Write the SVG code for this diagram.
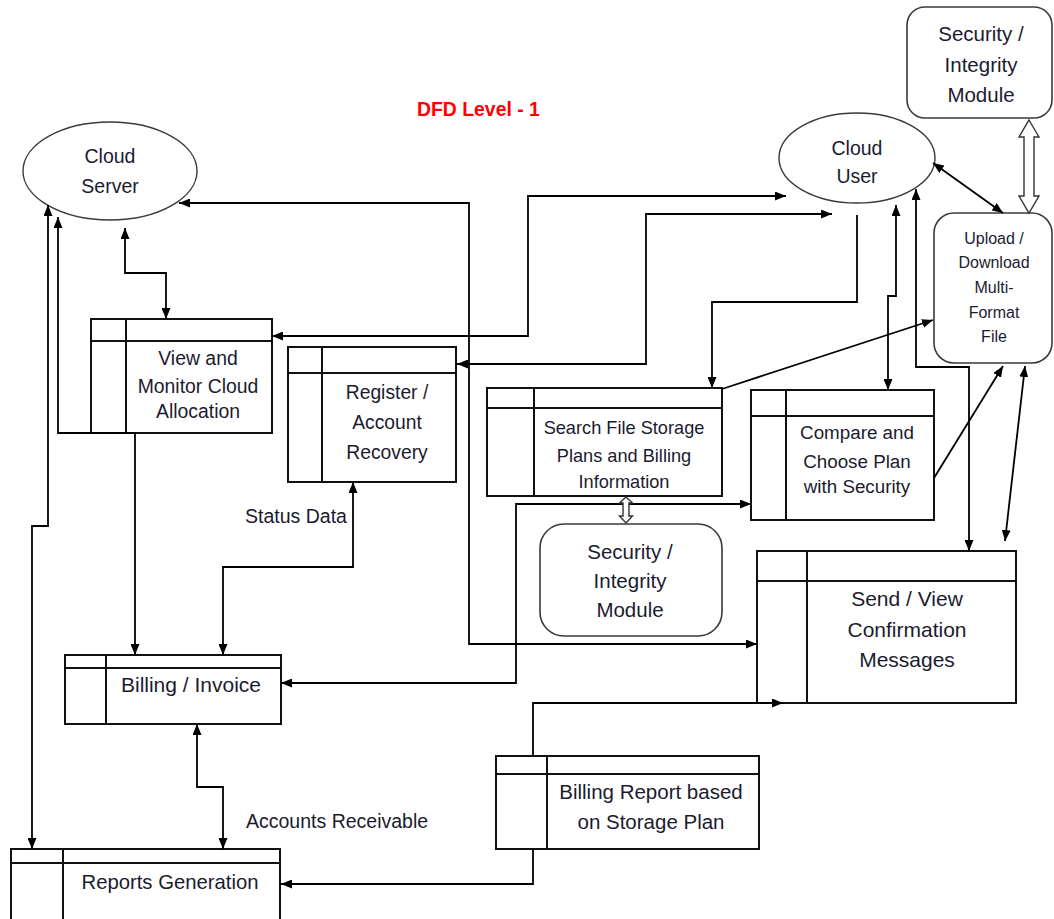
<svg xmlns="http://www.w3.org/2000/svg" width="1054" height="919" viewBox="0 0 1054 919">
  <style>
    .bg { fill: #ffffff; }
    .proc { fill: #ffffff; stroke: #111111; stroke-width: 2; }
    .part { fill: none; stroke: #111111; stroke-width: 2; }
    .ent { fill: #ffffff; stroke: #3a3a3a; stroke-width: 1.4; }
    .mod { fill: #ffffff; stroke: #3a3a3a; stroke-width: 1.6; }
    .flow { fill: none; stroke: #000000; stroke-width: 1.8; }
    .hollow { fill: #ffffff; stroke: #333333; stroke-width: 1.4; }
    text { font-family: "Liberation Sans", Arial, sans-serif; fill: #1b1b2f; text-anchor: middle; }
    .title { fill: #ff0000; font-weight: bold; font-size: 19.4px; text-anchor: start; }
    .lbl { font-size: 19.5px; text-anchor: start; }
  </style>
  <defs>
    <marker id="ah" viewBox="0 0 11 9" refX="11" refY="4.5" markerWidth="11" markerHeight="9" markerUnits="userSpaceOnUse" orient="auto-start-reverse">
      <path d="M0,0 L11,4.5 L0,9 z" fill="#000000"/>
    </marker>
  </defs>

  <rect class="bg" x="0" y="0" width="1054" height="919"/>

  <text class="title" x="417" y="116">DFD Level - 1</text>

  <!-- external entities -->
  <g id="cloud-server">
    <ellipse class="ent" cx="110" cy="171" rx="87" ry="49"/>
    <text font-size="19.5px"><tspan x="110" y="163">Cloud</tspan><tspan x="110" y="193">Server</tspan></text>
  </g>

  <g id="cloud-user">
    <ellipse class="ent" cx="857" cy="158" rx="78" ry="45"/>
    <text font-size="19.5px"><tspan x="857" y="155">Cloud</tspan><tspan x="857" y="183">User</tspan></text>
  </g>

  <!-- modules -->
  <g id="security-top">
    <rect class="mod" x="907" y="7" width="145" height="111" rx="18" ry="18"/>
    <text font-size="20.5px"><tspan x="981" y="41">Security /</tspan><tspan x="981" y="72">Integrity</tspan><tspan x="981" y="102">Module</tspan></text>
  </g>

  <g id="upload-download">
    <rect class="mod" x="934" y="213" width="118" height="150" rx="20" ry="20"/>
    <text font-size="16px"><tspan x="994" y="244">Upload /</tspan><tspan x="994" y="268">Download</tspan><tspan x="994" y="293">Multi-</tspan><tspan x="994" y="318">Format</tspan><tspan x="994" y="342">File</tspan></text>
  </g>

  <g id="security-mid">
    <rect class="mod" x="540" y="524" width="182" height="112" rx="24" ry="24"/>
    <text font-size="20.5px"><tspan x="630" y="559">Security /</tspan><tspan x="630" y="588">Integrity</tspan><tspan x="630" y="617">Module</tspan></text>
  </g>

  <!-- processes -->
  <g id="view-monitor">
    <rect class="proc" x="91" y="319" width="181" height="114"/>
    <path class="part" d="M91,341 H272 M126,319 V433"/>
    <text font-size="19.4px"><tspan x="198" y="365">View and</tspan><tspan x="198" y="393">Monitor Cloud</tspan><tspan x="198" y="418">Allocation</tspan></text>
  </g>

  <g id="register">
    <rect class="proc" x="288" y="347" width="168" height="135"/>
    <path class="part" d="M288,373 H456 M322,347 V482"/>
    <text font-size="19.3px"><tspan x="387" y="399">Register /</tspan><tspan x="387" y="429">Account</tspan><tspan x="387" y="459">Recovery</tspan></text>
  </g>

  <g id="search-plans">
    <rect class="proc" x="487" y="388" width="235" height="108"/>
    <path class="part" d="M487,408 H722 M534,388 V496"/>
    <text font-size="18.2px"><tspan x="624" y="434">Search File Storage</tspan><tspan x="624" y="462">Plans and Billing</tspan><tspan x="624" y="488">Information</tspan></text>
  </g>

  <g id="compare-plan">
    <rect class="proc" x="751" y="390" width="183" height="130"/>
    <path class="part" d="M751,416 H934 M786,390 V520"/>
    <text font-size="18.8px"><tspan x="857" y="439">Compare and</tspan><tspan x="857" y="468">Choose Plan</tspan><tspan x="857" y="493">with Security</tspan></text>
  </g>

  <g id="send-view">
    <rect class="proc" x="757" y="551" width="259" height="152"/>
    <path class="part" d="M757,581 H1016 M807,551 V703"/>
    <text font-size="21px"><tspan x="907" y="606">Send / View</tspan><tspan x="907" y="637">Confirmation</tspan><tspan x="907" y="667">Messages</tspan></text>
  </g>

  <g id="billing-invoice">
    <rect class="proc" x="65" y="655" width="216" height="69"/>
    <path class="part" d="M65,668 H281 M106,655 V724"/>
    <text font-size="21px" x="191" y="692">Billing / Invoice</text>
  </g>

  <g id="billing-report">
    <rect class="proc" x="496" y="756" width="263" height="93"/>
    <path class="part" d="M496,774 H759 M547,756 V849"/>
    <text font-size="20.5px"><tspan x="651" y="799">Billing Report based</tspan><tspan x="651" y="829">on Storage Plan</tspan></text>
  </g>

  <g id="reports-generation">
    <rect class="proc" x="11" y="849" width="269" height="80"/>
    <path class="part" d="M11,863 H280 M63,849 V929"/>
    <text font-size="20.3px" x="170" y="889">Reports Generation</text>
  </g>

  <!-- data flows -->
  <g id="connectors">
    <path class="flow" d="M125,228 V273 H166 V319" marker-start="url(#ah)" marker-end="url(#ah)"/>
    <path class="flow" d="M48,205 V526 H32 V849" marker-start="url(#ah)" marker-end="url(#ah)"/>
    <path class="flow" d="M58,217 V433 H135 V655" marker-start="url(#ah)" marker-end="url(#ah)"/>
    <path class="flow" d="M179,203 H469 V644 H757" marker-start="url(#ah)" marker-end="url(#ah)"/>
    <path class="flow" d="M272,336 H528 V196 H786" marker-start="url(#ah)" marker-end="url(#ah)"/>
    <path class="flow" d="M457,364 H646 V214 H832" marker-start="url(#ah)" marker-end="url(#ah)"/>
    <path class="flow" d="M857,215 V302 H712 V388" marker-end="url(#ah)"/>
    <path class="flow" d="M896,205 V296 H888 V390" marker-start="url(#ah)" marker-end="url(#ah)"/>
    <path class="flow" d="M916,189 V367 H969 V551" marker-start="url(#ah)" marker-end="url(#ah)"/>
    <path class="flow" d="M933,163 L1003,213" marker-start="url(#ah)" marker-end="url(#ah)"/>
    <path class="flow" d="M722,389 L933,320" marker-end="url(#ah)"/>
    <path class="flow" d="M934,478 L1003,366" marker-end="url(#ah)"/>
    <path class="flow" d="M1025,366 L1005,541" marker-start="url(#ah)" marker-end="url(#ah)"/>
    <path class="flow" d="M533,756 V703 H783" marker-end="url(#ah)"/>
    <path class="flow" d="M533,849 V884 H281" marker-end="url(#ah)"/>
    <path class="flow" d="M751,504 H516 V683 H281" marker-start="url(#ah)" marker-end="url(#ah)"/>
    <path class="flow" d="M353,482 V567 H223 V655" marker-start="url(#ah)" marker-end="url(#ah)"/>
    <path class="flow" d="M197,724 V787 H223 V849" marker-start="url(#ah)" marker-end="url(#ah)"/>
    <!-- hollow two-way links to the security modules -->
    <path class="hollow" d="M1029,120 L1039,137 L1034,137 L1034,196 L1039,196 L1029,213 L1019,196 L1024,196 L1024,137 L1019,137 Z"/>
    <path class="hollow" d="M626,497 L632.5,503 L629,503 L629,516 L632.5,516 L626,523 L619.5,516 L623,516 L623,503 L619.5,503 Z"/>
  </g>

  <!-- flow labels -->
  <text class="lbl" x="245" y="523">Status Data</text>
  <text class="lbl" x="246" y="828">Accounts Receivable</text>
</svg>
